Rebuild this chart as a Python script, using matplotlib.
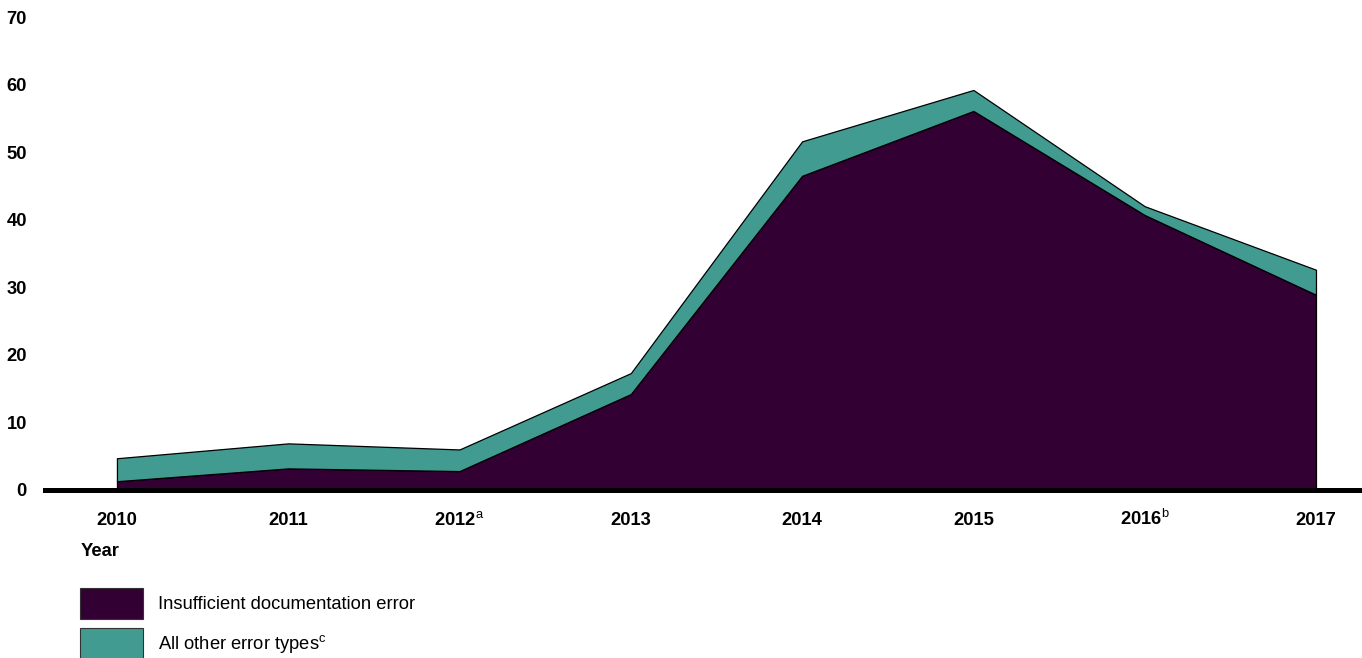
import numpy as np
import matplotlib as mpl
mpl.use('Agg')
import matplotlib.pyplot as plt
from matplotlib.patches import Patch

plt.rcParams['font.family'] = ['Liberation Sans', 'DejaVu Sans']
plt.rcParams['mathtext.fontset'] = 'custom'
plt.rcParams['mathtext.rm'] = 'Liberation Sans'

years = ['2010', '2011', '2012$^{\\mathrm{a}}$', '2013', '2014', '2015',
         '2016$^{\\mathrm{b}}$', '2017']
doc_error = [1.3, 3.2, 2.8, 14.2, 46.5, 56.1, 40.7, 28.9]
other_error = [3.4, 3.7, 3.2, 3.1, 5.1, 3.1, 1.3, 3.7]
labels = ['Insufficient documentation error', 'All other error types$^{\\mathrm{c}}$']
colors = ['#320032', '#419b91']

x = np.arange(len(years))
doc = np.array(doc_error)
total = doc + np.array(other_error)

fig = plt.figure(figsize=(13.62, 6.58), dpi=100)
ax = fig.add_axes([45/1362, 168/658, 1315/1362, 473/658])

ax.fill_between(x, 0, doc, facecolor=colors[0], edgecolor='black', lw=0.9, zorder=1)
ax.fill_between(x, doc, total, facecolor=colors[1], edgecolor='black', lw=0.9, zorder=1)

ax.set_xlim(-0.42, 7.257)
ax.set_ylim(0, 70)
ax.set_yticks(range(0, 71, 10))
ax.set_xticks(x)
ax.set_xticklabels(years)
ax.tick_params(axis='both', length=0, labelsize=13.2)
ax.tick_params(axis='x', pad=25.5)
ax.tick_params(axis='y', pad=13)
for lab in ax.get_xticklabels() + ax.get_yticklabels():
    lab.set_fontweight('bold')
for lab in ax.get_xticklabels():
    lab.set_va('baseline')

for s in ['top', 'right', 'left']:
    ax.spines[s].set_visible(False)
ax.spines['bottom'].set_linewidth(3.6)
ax.spines['bottom'].set_zorder(3)

fig.text(81/1362, 1 - 551/658, 'Year', fontsize=13.2, fontweight='bold', va='center', ha='left')

handles = [Patch(facecolor=c, edgecolor='#333333', lw=0.8) for c in colors]
fig.legend(handles, labels, loc='upper left', bbox_to_anchor=(80/1362, 1 - 588/658),
           frameon=False, borderpad=0, borderaxespad=0, fontsize=13.2,
           handlelength=3.45, handleheight=2.25, handletextpad=0.8, labelspacing=0.45)

fig.savefig('out.png', dpi=100)
plt.close()
